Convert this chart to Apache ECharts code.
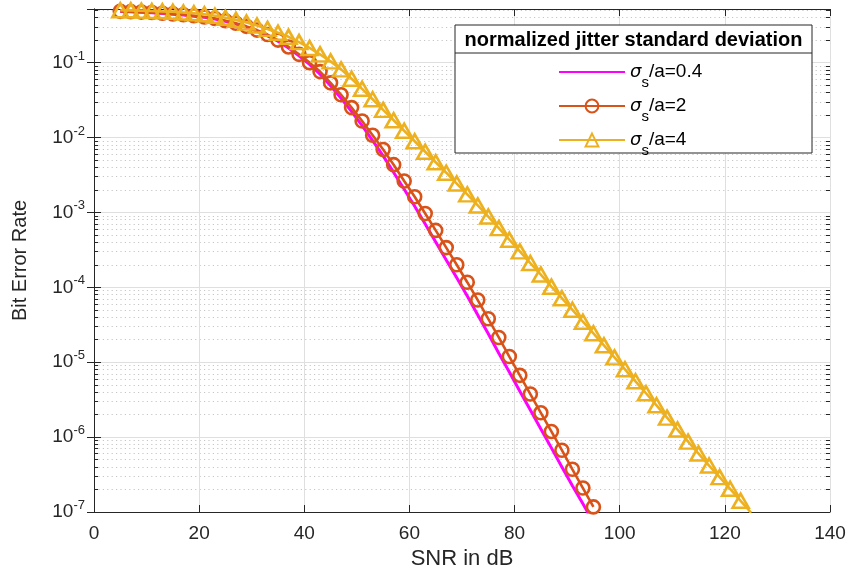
<!DOCTYPE html>
<html><head><meta charset="utf-8">
<script src="https://cdn.jsdelivr.net/npm/echarts@6/dist/echarts.min.js"></script>
<style>html,body{margin:0;padding:0;background:#fff}#c{width:850px;height:576px}</style>
</head><body><div id="c"></div>
<script>
// SNR grid (dB)
const snrDb = [5,7,9,11,13,15,17,19,21,23,25,27,29,31,33,35,37,39,41,43,45,47,49,51,53,55,57,59,61,63,65,67,69,71,73,75,77,79,81,83,85,87,89,91,93,95,97,99,101,103,105,107,109,111,113,115,117,119,121,123,125];
// sigma_s/a = 0.4 (magenta, no markers)
const berSigma04 = [0.482,0.476,0.471,0.463,0.454,0.444,0.431,0.417,0.402,0.382,0.356,0.327,0.296,0.263,0.228,0.193,0.157,0.123,0.0946,0.0701,0.0490,0.0333,0.0222,0.0144,0.00910,0.00569,0.00342,0.00204,0.00121,6.98e-4,4.03e-4,2.31e-4,1.34e-4,7.66e-5,4.27e-5,2.40e-5,1.32e-5,7.40e-6,4.09e-6,2.30e-6,1.28e-6,7.18e-7,4.00e-7,2.24e-7,1.29e-7,7.24e-8];
// sigma_s/a = 2 (circles)
const berSigma2 = [0.484,0.479,0.473,0.466,0.457,0.447,0.435,0.422,0.407,0.389,0.363,0.335,0.305,0.272,0.237,0.200,0.162,0.129,0.100,0.0759,0.0537,0.0372,0.0251,0.0166,0.0107,0.00692,0.00434,0.00263,0.00162,9.66e-4,5.75e-4,3.39e-4,2.00e-4,1.17e-4,6.76e-5,3.80e-5,2.14e-5,1.19e-5,6.68e-6,3.76e-6,2.11e-6,1.19e-6,6.68e-7,3.72e-7,2.09e-7,1.17e-7];
// sigma_s/a = 4 (triangles)
const berSigma4 = [0.500,0.499,0.495,0.490,0.484,0.479,0.468,0.457,0.442,0.422,0.398,0.372,0.343,0.313,0.282,0.251,0.221,0.188,0.157,0.129,0.104,0.0813,0.0610,0.0447,0.0324,0.0234,0.0170,0.0123,0.00891,0.00646,0.00468,0.00339,0.00243,0.00174,0.00124,8.81e-4,6.17e-4,4.32e-4,3.02e-4,2.11e-4,1.48e-4,1.02e-4,7.16e-5,5.01e-5,3.47e-5,2.43e-5,1.68e-5,1.16e-5,8.04e-6,5.56e-6,3.85e-6,2.66e-6,1.82e-6,1.26e-6,8.71e-7,6.03e-7,4.17e-7,2.92e-7,2.04e-7,1.41e-7,9.77e-8];

const seriesNames = ['0.4','2','4'];
const legendTitle = 'normalized jitter standard deviation';
const xTicks = [0,20,40,60,80,100,120,140];
const minorMult = [2,3,4,5,6,7,8,9];

const X_MIN = 0, X_MAX = 140, Y_MIN = 1e-7, Y_MAX = 0.52;
const AX = '#262626';
const FONT = 'Liberation Sans';

const pairs = (ys) => ys.map((y, i) => [snrDb[i], y]);

const chart = echarts.init(document.getElementById('c'), null, {renderer: 'canvas'});

const yLabelFmt = (v) => {
  const l = Math.log10(v), e = Math.round(l);
  if (Math.abs(l - e) > 1e-6) return '';
  return '{b|10}{e|' + e + '}';
};

const baseY = {
  type: 'log', min: Y_MIN, max: Y_MAX, logBase: 10,
  axisLine: {show: true, lineStyle: {color: AX, width: 1}},
  axisTick: {show: true, inside: true, length: 7, lineStyle: {color: AX}},
  splitLine: {show: false},
  axisLabel: {show: false}
};
const baseX = {
  type: 'value', min: X_MIN, max: X_MAX, interval: 20,
  axisLine: {show: true, onZero: false, lineStyle: {color: AX, width: 1}},
  axisTick: {show: true, inside: true, length: 7, lineStyle: {color: AX}},
  splitLine: {show: false},
  axisLabel: {show: false}
};

// minor decade axes: axis scaled by 1/m so its decade ticks fall on m*10^k of the main axis
const minorAxes = [];
['left', 'right'].forEach(pos => {
  minorMult.forEach(m => {
    minorAxes.push({
      type: 'log', min: Y_MIN / m, max: Y_MAX / m, logBase: 10, position: pos, silent: true,
      axisLine: {show: false},
      axisLabel: {show: false},
      axisTick: {show: true, inside: true, length: 4, lineStyle: {color: AX}},
      splitLine: {show: pos === 'left', lineStyle: {color: '#c6c6c6', width: 1, type: [1.2, 3.2]}}
    });
  });
});

const legendFmt = (name) => '{g|σ}{s|s}{t|/a=' + name + '}';
const hidden = {color: 'rgba(0,0,0,0)', borderColor: 'rgba(0,0,0,0)', borderWidth: 0};

chart.setOption({
  animation: false,
  backgroundColor: '#fff',
  grid: {left: 94, right: 20, top: 9, bottom: 64, containLabel: false},
  xAxis: [
    Object.assign({}, baseX, {
      position: 'bottom',
      name: 'SNR in dB', nameLocation: 'middle', nameGap: 35,
      nameTextStyle: {fontFamily: FONT, fontSize: 22, color: AX},
      axisLabel: {show: true, margin: 12, fontFamily: FONT, fontSize: 19, color: AX},
      splitLine: {show: true, lineStyle: {color: '#dfdfdf', width: 1}}
    }),
    Object.assign({}, baseX, {position: 'top'})
  ],
  yAxis: [
    Object.assign({}, baseY, {
      position: 'left',
      name: 'Bit Error Rate', nameLocation: 'middle', nameGap: 64,
      nameTextStyle: {fontFamily: FONT, fontSize: 20, color: AX},
      axisLabel: {show: true, margin: 9, formatter: yLabelFmt,
        rich: {
          b: {fontFamily: FONT, fontSize: 19, color: AX, lineHeight: 26, verticalAlign: 'middle'},
          e: {fontFamily: FONT, fontSize: 13, color: AX, lineHeight: 13, verticalAlign: 'top', padding: [0,0,0,0]}
        }},
      splitLine: {show: true, lineStyle: {color: '#dfdfdf', width: 1}}
    }),
    Object.assign({}, baseY, {position: 'right'})
  ].concat(minorAxes),
  legend: {
    show: true, orient: 'vertical', left: 558, top: 56, padding: 0,
    itemWidth: 66, itemHeight: 16, itemGap: 0, selectedMode: false, z: 6,
    formatter: legendFmt,
    textStyle: {
      fontFamily: FONT, fontSize: 19, color: '#000',
      rich: {
        g: {fontFamily: 'DejaVu Sans', fontStyle: 'italic', fontSize: 18, color: '#000', lineHeight: 32, verticalAlign: 'middle'},
        s: {fontFamily: FONT, fontSize: 15, color: '#000', lineHeight: 12, verticalAlign: 'top', padding: [19,0,0,0]},
        t: {fontFamily: FONT, fontSize: 19, color: '#000', lineHeight: 32, verticalAlign: 'middle'}
      }
    },
    data: [
      {name: seriesNames[0], itemStyle: hidden},
      {name: seriesNames[1]},
      {name: seriesNames[2]}
    ]
  },
  graphic: [
    {type: 'rect', z: 5, shape: {x: 455, y: 25, width: 357, height: 128}, style: {fill: '#fff', stroke: AX, lineWidth: 1}},
    {type: 'line', z: 5, shape: {x1: 455, y1: 53, x2: 812, y2: 53}, style: {stroke: AX, lineWidth: 1}},
    {type: 'text', z: 6, x: 633.5, y: 40, style: {text: legendTitle, fontFamily: FONT, fontWeight: 'bold', fontSize: 20, fill: '#000', align: 'center', verticalAlign: 'middle'}}
  ],
  series: [
    {
      name: seriesNames[0], type: 'line', data: pairs(berSigma04), clip: true,
      showSymbol: false, symbol: 'none', color: '#FF00FF',
      lineStyle: {color: '#FF00FF', width: 3}, z: 2
    },
    {
      name: seriesNames[1], type: 'line', data: pairs(berSigma2), clip: true,
      symbol: 'circle', symbolSize: 13, showAllSymbol: true, color: '#D95319',
      itemStyle: {color: 'rgba(0,0,0,0)', borderColor: '#D95319', borderWidth: 2.6},
      lineStyle: {color: '#D95319', width: 2.6}, z: 3
    },
    {
      name: seriesNames[2], type: 'line', data: pairs(berSigma4), clip: true,
      symbol: 'triangle', symbolSize: [16, 14], showAllSymbol: true, color: '#EDB120',
      itemStyle: {color: 'rgba(0,0,0,0)', borderColor: '#EDB120', borderWidth: 2.6},
      lineStyle: {color: '#EDB120', width: 2.6}, z: 4
    }
  ]
});
</script>
</body></html>
